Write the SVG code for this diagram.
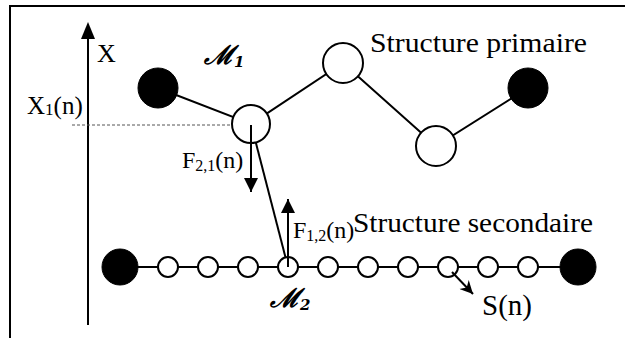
<svg xmlns="http://www.w3.org/2000/svg" width="629" height="338" viewBox="0 0 629 338">
<defs>
<style>
.t{font-family:"Liberation Serif","Times New Roman",serif;fill:#000}
.sc{font-family:"DejaVu Serif","Liberation Serif",serif;font-style:italic;font-weight:bold;fill:#000}
.ln{stroke:#000;stroke-width:2;fill:none}
.open{fill:#fff;stroke:#000;stroke-width:2}
.solid{fill:#000;stroke:#000;stroke-width:1}
</style>
<marker id="tri" viewBox="0 0 10 10" refX="10" refY="5" markerWidth="15" markerHeight="14" markerUnits="userSpaceOnUse" orient="auto">
<path d="M0,0 L10,5 L0,10 Z" fill="#000"/>
</marker>
<marker id="barb" viewBox="0 0 10 10" refX="10" refY="5" markerWidth="14" markerHeight="13" markerUnits="userSpaceOnUse" orient="auto">
<path d="M0,0 L10,5 L0,10 L3,5 Z" fill="#000"/>
</marker>
</defs>
<rect width="629" height="338" fill="#fff"/>
<g id="frame">
<path d="M10,338 V6 H625" stroke="#000" stroke-width="2" fill="none"/>
</g>
<g id="axis">
<line x1="88" y1="325" x2="88" y2="36" class="ln"/>
<path d="M88,22 L95,39 L81,39 Z" fill="#000"/>
<text class="t" x="97" y="62" font-size="26">X</text>
</g>
<g id="connectors">
<line x1="72" y1="125" x2="251" y2="125" stroke="#555" stroke-width="1" stroke-dasharray="3,2"/>
<polyline points="158,88 251,124 343,63 436,146 528,88" class="ln"/>
<line x1="120" y1="267" x2="578" y2="267" class="ln"/>
<line x1="251" y1="124" x2="288" y2="267" class="ln"/>
</g>
<g id="primary-fixed-left"><circle cx="158" cy="88" r="20" class="solid"/></g>
<g id="primary-m1"><circle cx="251" cy="124" r="19" class="open"/></g>
<g id="primary-top"><circle cx="343" cy="63" r="20" class="open"/></g>
<g id="primary-bottom"><circle cx="436" cy="146" r="20" class="open"/></g>
<g id="primary-fixed-right"><circle cx="528" cy="88" r="20" class="solid"/></g>
<g id="secondary-fixed-left"><circle cx="120" cy="267" r="18" class="solid"/></g>
<g id="secondary-fixed-right"><circle cx="578" cy="267" r="18" class="solid"/></g>
<g id="secondary-masses">
<circle cx="168" cy="267" r="10" class="open"/>
<circle cx="208" cy="267" r="10" class="open"/>
<circle cx="248" cy="267" r="10" class="open"/>
<circle cx="288" cy="267" r="10" class="open"/>
<circle cx="328" cy="267" r="10" class="open"/>
<circle cx="368" cy="267" r="10" class="open"/>
<circle cx="408" cy="267" r="10" class="open"/>
<circle cx="448" cy="267" r="10" class="open"/>
<circle cx="488" cy="267" r="10" class="open"/>
<circle cx="528" cy="267" r="10" class="open"/>
</g>
<g id="forces">
<line x1="251" y1="125" x2="251" y2="192" class="ln" marker-end="url(#tri)"/>
<line x1="288" y1="267" x2="288" y2="199" class="ln" marker-end="url(#tri)"/>
<line x1="452" y1="272" x2="473" y2="294" class="ln" marker-end="url(#barb)"/>
</g>
<g id="labels">
<text class="t" x="27" y="114" font-size="25">X<tspan font-size="17" dy="1">1</tspan><tspan dy="-1">(n)</tspan></text>
<text class="sc" x="204" y="64" font-size="26">ℳ<tspan font-size="15" dy="3">1</tspan></text>
<text class="t" x="370" y="52" font-size="28" textLength="217" lengthAdjust="spacingAndGlyphs">Structure primaire</text>
<text class="t" x="182" y="168" font-size="24">F<tspan font-size="16" dy="3">2,1</tspan><tspan dy="-3">(n)</tspan></text>
<text class="t" x="293" y="238" font-size="24">F<tspan font-size="16" dy="3">1,2</tspan><tspan dy="-3">(n)</tspan></text>
<text class="t" x="353" y="232" font-size="28" textLength="240" lengthAdjust="spacingAndGlyphs">Structure secondaire</text>
<text class="sc" x="270" y="307" font-size="26">ℳ<tspan font-size="15" dy="3">2</tspan></text>
<text class="t" x="482" y="315" font-size="29">S(n)</text>
</g>
</svg>
